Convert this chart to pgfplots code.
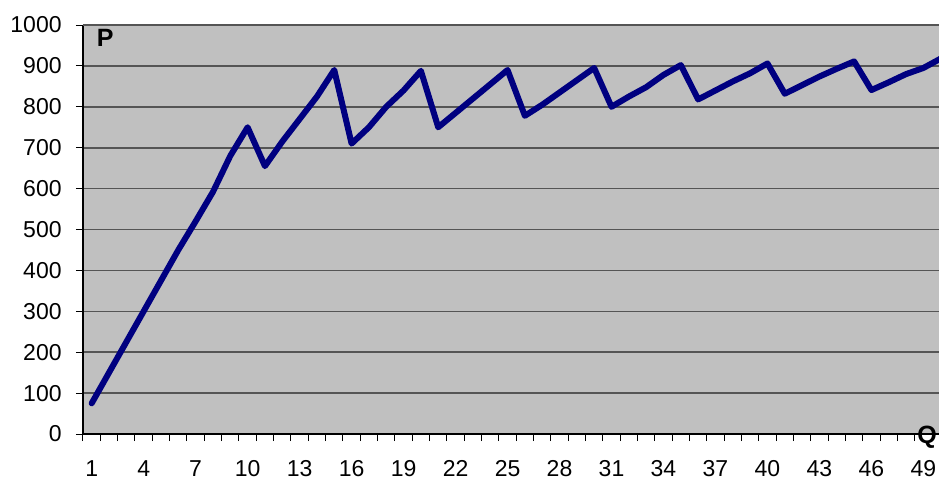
\documentclass[border=0pt]{standalone}
\usepackage{fontspec}
\setmainfont{Liberation Sans}
\usepackage{pgfplots}
\pgfplotsset{compat=1.18}
\definecolor{plotbg}{HTML}{C0C0C0}
\definecolor{gridc}{HTML}{555555}
\definecolor{navy}{HTML}{000080}

\pgfplotstableread{
q p
1 75
2 150
3 225
4 300
5 375
6 450
7 520
8 592
9 680
10 750
11 655
12 715
13 770
14 825
15 890
16 710
17 750
18 800
19 840
20 888
21 750
22 785
23 820
24 855
25 890
26 778
27 805
28 835
29 865
30 895
31 800
32 825
33 848
34 878
35 902
36 818
37 840
38 862
39 882
40 906
41 832
42 853
43 874
44 893
45 911
46 841
47 860
48 880
49 895
50 918
}\pqdata

\begin{document}
\begin{tikzpicture}
\begin{axis}[
  scale only axis,
  width=428pt, height=204.5pt,
  xmin=0.5, xmax=49.9,
  ymin=0, ymax=1000,
  xtick={1,4,...,49},
  minor xtick={0.5,1.5,...,49.5},
  ytick={0,100,...,1000},
  tick align=outside,
  major tick length=3.5pt,
  minor tick length=3.5pt,
  major x tick style={draw=none},
  tick style={black, line width=0.5pt},
  axis x line*=bottom,
  axis y line*=left,
  axis line style={black, line width=0.6pt, -},
  axis background/.style={fill=plotbg},
  ymajorgrids=true,
  grid style={gridc, line width=0.8pt},
  /pgf/number format/assume math mode=true,
  /pgf/number format/set thousands separator={},
  tick label style={font=\fontsize{11.5}{13}\selectfont},
  yticklabel style={anchor=east, inner sep=0pt, xshift=-7pt},
  xticklabel style={anchor=north, inner sep=0pt, yshift=-9.5pt},
  clip=true,
]
\draw[gridc, line width=0.8pt] (rel axis cs:0,1) -- (rel axis cs:1,1);
\addplot[navy, line width=3pt, line join=round, line cap=round, mark=none] table[x=q, y=p] {\pqdata};
\node[font=\bfseries\fontsize{12.5}{14}\selectfont, inner sep=0pt] at (axis description cs:0.026,0.969) {P};
\end{axis}
\node[font=\bfseries\fontsize{12.5}{14}\selectfont, inner sep=0pt] at ([xshift=-6pt,yshift=-1.5pt]current axis.south east) {Q};
\pgfresetboundingbox
\path[use as bounding box] ([xshift=-41.5pt,yshift=-22.5pt]current axis.south west) rectangle ([yshift=12.5pt]current axis.north east);
\end{tikzpicture}
\end{document}
